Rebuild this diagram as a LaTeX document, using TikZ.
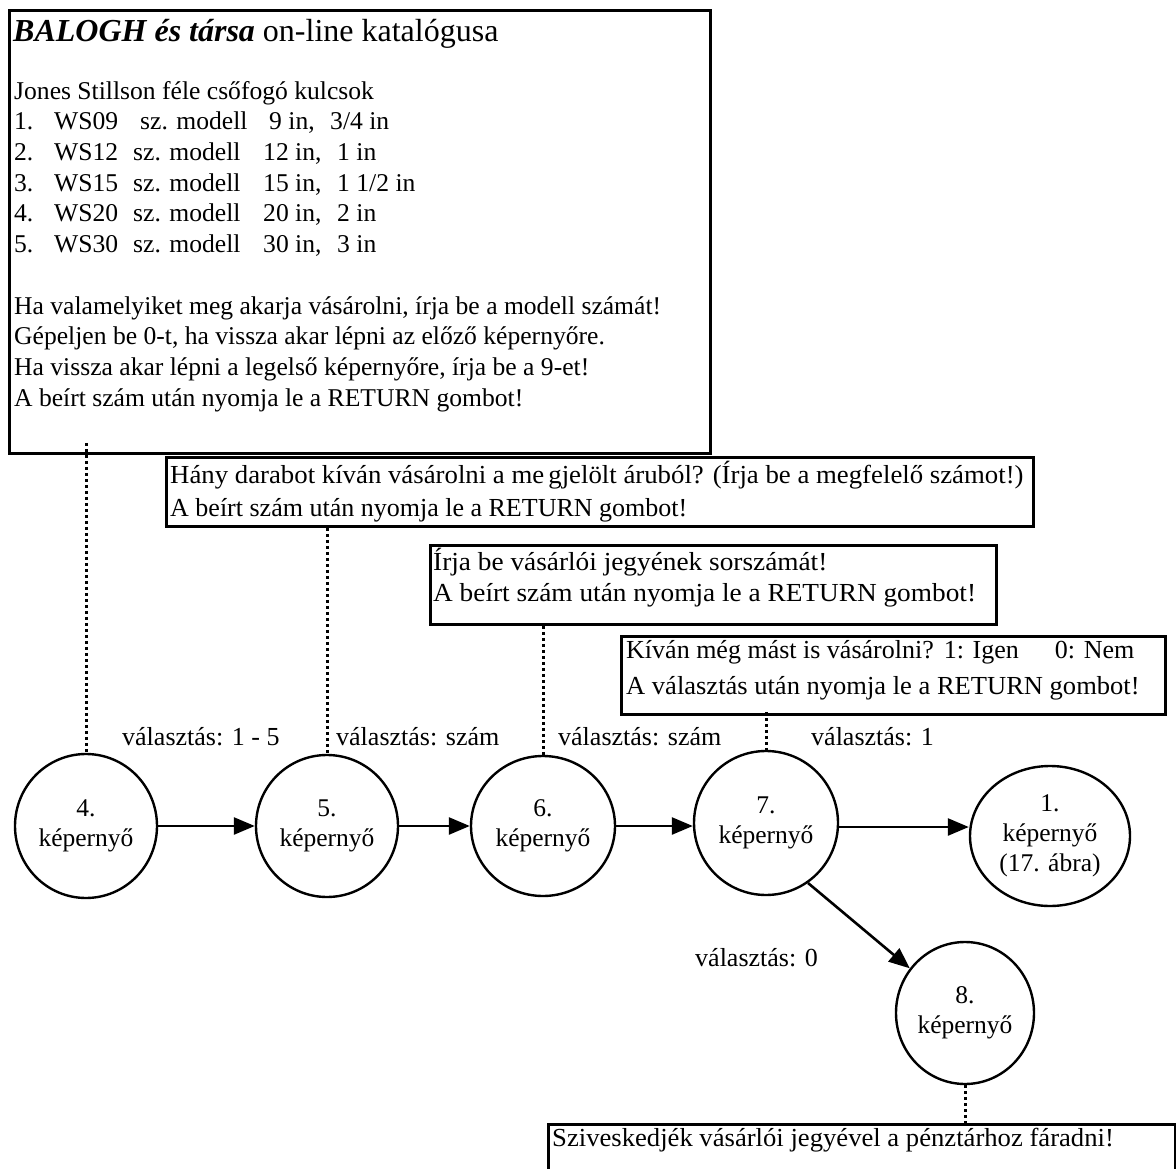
\documentclass[tikz,border=0pt]{standalone}
\usepackage{fontspec}
\setmainfont{Liberation Serif}
\usetikzlibrary{shapes.geometric,arrows.meta}
\begin{document}
\begin{tikzpicture}[x=1pt,y=-1pt,
  panel/.style={draw, line width=2.8pt, rectangle, inner sep=0pt, anchor=north west},
  screen/.style={draw, line width=2.4pt, ellipse, inner sep=0pt, align=center,
    font=\fontsize{25.5}{30}\selectfont},
  body/.style={inner sep=0pt, align=left, anchor=north west},
  lab/.style={inner sep=0pt, anchor=base west, font=\fontsize{26}{30}\selectfont},
  flow/.style={line width=2.6pt, -{Triangle[length=21pt,width=17pt]}},
  link/.style={line width=3pt, dash pattern=on 3pt off 3pt},
]
\useasboundingbox (0,0) rectangle (1176,1169);
\clip (0,0) rectangle (1176,1169);

% --- text panels ---
\node[panel, minimum width=701pt, minimum height=443pt] (b1) at (8,9) {};
\node[panel, minimum width=867pt, minimum height=69pt] (b2) at (165,456) {};
\node[panel, minimum width=566pt, minimum height=79pt] (b3) at (429,544) {};
\node[panel, minimum width=544pt, minimum height=78pt] (b4) at (620,635) {};
\node[panel, minimum width=627pt, minimum height=80pt] (b5) at (547,1123) {};

\node[inner sep=0pt, anchor=base west, font=\fontsize{32}{36}\selectfont] (title) at (13,41.7)
  {\textbf{\textit{BALOGH és társa}} on-line katalógusa};

\node[body, font=\fontsize{25.6}{30.7}\selectfont] (t1) at (14,77.5) {%
\strut Jones Stillson féle csőfogó kulcsok\\
\makebox[40pt][l]{1.}\makebox[86pt][l]{WS09}\makebox[129pt][l]{sz. modell}\makebox[61pt][l]{9 in,}3/4 in\\
\makebox[40pt][l]{2.}\makebox[79pt][l]{WS12}\makebox[130pt][l]{sz. modell}\makebox[74pt][l]{12 in,}1 in\\
\makebox[40pt][l]{3.}\makebox[79pt][l]{WS15}\makebox[130pt][l]{sz. modell}\makebox[74pt][l]{15 in,}1 1/2 in\\
\makebox[40pt][l]{4.}\makebox[79pt][l]{WS20}\makebox[130pt][l]{sz. modell}\makebox[74pt][l]{20 in,}2 in\\
\makebox[40pt][l]{5.}\makebox[79pt][l]{WS30}\makebox[130pt][l]{sz. modell}\makebox[74pt][l]{30 in,}3 in\\[30.7pt]
Ha valamelyiket meg akarja vásárolni, írja be a modell számát!\\
Gépeljen be 0-t, ha vissza akar lépni az előző képernyőre.\\
Ha vissza akar lépni a legelső képernyőre, írja be a 9-et!\\
A beírt szám után nyomja le a RETURN gombot!};

\node[body, font=\fontsize{26}{33}\selectfont] (t2) at (170,460) {%
\strut\scalebox{1.03}[1]{Hány darabot kíván vásárolni a me\kern4pt gjelölt áruból? (Írja be a megfelelő számot!)}\\
A beírt szám után nyomja le a RETURN gombot!};

\node[body, font=\fontsize{26}{31}\selectfont] (t3) at (433,548.3) {%
\strut\scalebox{1.05}[1]{Írja be vásárlói jegyének sorszámát!}\\
\scalebox{1.05}[1]{A beírt szám után nyomja le a RETURN gombot!}};

\node[body, font=\fontsize{26}{36}\selectfont] (t4) at (626,633.5) {%
\strut Kíván még mást is vásárolni?\hspace{10pt}1: Igen\hspace{36pt}0: Nem\\
\scalebox{1.02}[1]{A választás után nyomja le a RETURN gombot!}};

\node[body, font=\fontsize{26}{30}\selectfont] (t5) at (552,1125) {%
\strut\scalebox{1.025}[1]{Sziveskedjék vásárlói jegyével a pénztárhoz fáradni!}};

% --- screens ---
\node[screen, minimum width=142pt, minimum height=144pt] (c4) at (86,826) {4.\\képernyő};
\node[screen, minimum width=142pt, minimum height=142pt] (c5) at (327,826) {5.\\képernyő};
\node[screen, minimum width=144pt, minimum height=140pt] (c6) at (543,826) {6.\\képernyő};
\node[screen, minimum width=144pt, minimum height=144pt] (c7) at (766,823) {7.\\képernyő};
\node[screen, minimum width=160pt, minimum height=140pt] (c1) at (1050,836) {1.\\képernyő\\(17. ábra)};
\node[screen, minimum width=138pt, minimum height=142pt] (c8) at (965,1013) {8.\\képernyő};

% --- transitions ---
\draw[flow] (c4.east) -- (c4.east -| c5.west);
\draw[flow] (c5.east) -- (c5.east -| c6.west);
\draw[flow] (c6.east) -- (c6.east -| c7.west);
\draw[flow] ([yshift=-4pt]c7.east) -- ([yshift=-4pt]c7.east -| c1.west);
\draw[flow] (c7.-55) -- (c8.141);

\node[lab] (l1) at (122,745) {választás: 1 - 5};
\node[lab] (l2) at (336,745) {választás: szám};
\node[lab] (l3) at (558,745) {választás: szám};
\node[lab] (l4) at (811,745) {választás: 1};
\node[lab] (l5) at (695,966) {választás: 0};

% --- panel links ---
\draw[link] ([yshift=12pt]b1.south -| c4.north) -- (c4.north);
\draw[link] (b2.south -| c5.north) -- (c5.north);
\draw[link] (b3.south -| c6.north) -- (c6.north);
\draw[link] ([yshift=4pt]b4.south -| c7.north) -- (c7.north);
\draw[link] (c8.south) -- (c8.south |- b5.north);
\end{tikzpicture}
\end{document}
